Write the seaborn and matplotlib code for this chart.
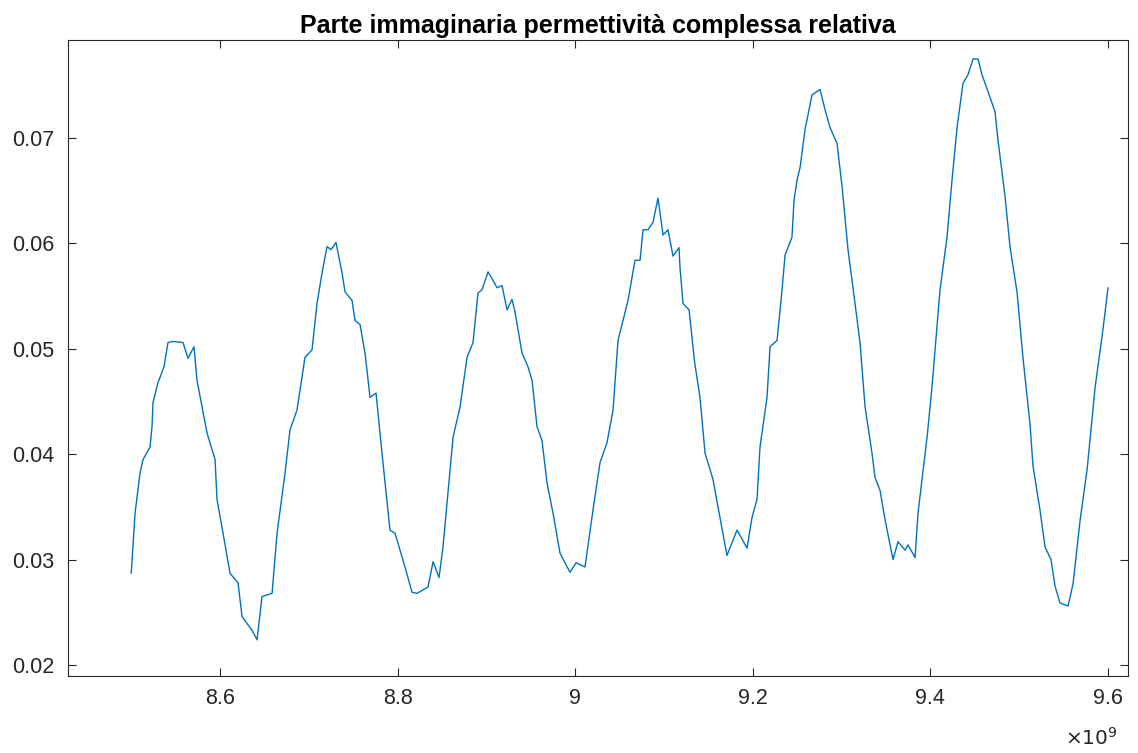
import numpy as np
import pandas as pd
import matplotlib
matplotlib.use("Agg")
import matplotlib.pyplot as plt
import seaborn as sns
from matplotlib.ticker import FuncFormatter, FixedLocator

# Frequency (GHz, plotted in Hz) and imaginary part of relative permittivity
freq_ghz = [
    8.5000, 8.5043, 8.5099, 8.5133, 8.5212, 8.5234, 8.5245, 8.5302, 8.5369, 8.5414,
    8.5471, 8.5583, 8.5640, 8.5707, 8.5741, 8.5797, 8.5854, 8.5944, 8.5966, 8.6034,
    8.6113, 8.6203, 8.6248, 8.6360, 8.6417, 8.6473, 8.6586, 8.6642, 8.6732, 8.6788,
    8.6867, 8.6957, 8.7036, 8.7092, 8.7149, 8.7205, 8.7250, 8.7306, 8.7374, 8.7408,
    8.7486, 8.7520, 8.7577, 8.7633, 8.7689, 8.7757, 8.7824, 8.7914, 8.7971, 8.8083,
    8.8162, 8.8218, 8.8342, 8.8399, 8.8466, 8.8511, 8.8624, 8.8703,
    8.8782, 8.8849, 8.8905, 8.8950, 8.9018, 8.9074, 8.9119, 8.9176, 8.9232, 8.9288,
    8.9322, 8.9401, 8.9468, 8.9514, 8.9570, 8.9626, 8.9682, 8.9750, 8.9829, 8.9941,
    9.0009, 9.0110, 9.0200, 9.0279, 9.0358, 9.0426, 9.0482, 9.0595, 9.0673,
    9.0730, 9.0764, 9.0820, 9.0876, 9.0932, 9.0989, 9.1045, 9.1101, 9.1169, 9.1180,
    9.1214, 9.1282, 9.1315, 9.1345, 9.1405, 9.1462, 9.1552, 9.1608, 9.1709, 9.1822,
    9.1935, 9.1991, 9.2047, 9.2081, 9.2160, 9.2194, 9.2273, 9.2329, 9.2363, 9.2441,
    9.2464, 9.2498,
    9.2532, 9.2588, 9.2667, 9.2757, 9.2813, 9.2869, 9.2948, 9.3005, 9.3072, 9.3151,
    9.3207, 9.3264, 9.3342, 9.3376, 9.3432, 9.3489, 9.3579, 9.3635, 9.3714, 9.3748,
    9.3827, 9.3860, 9.3962, 9.4018, 9.4108, 9.4187, 9.4243, 9.4300, 9.4367, 9.4423,
    9.4480, 9.4536, 9.4581, 9.4649, 9.4727, 9.4761, 9.4840, 9.4896, 9.4975, 9.5043,
    9.5122, 9.5155, 9.5234, 9.5291, 9.5358, 9.5403, 9.5459, 9.5550, 9.5606, 9.5685,
    9.5764, 9.5854, 9.5944, 9.6000,
]

eps_imag = [
    0.0287, 0.0344, 0.0382, 0.0395, 0.0407, 0.0426, 0.0449, 0.0468, 0.0483, 0.0506,
    0.0507, 0.0506, 0.0491, 0.0502, 0.0470, 0.0445, 0.0420, 0.0395, 0.0357, 0.0325,
    0.0287, 0.0278, 0.0246, 0.0233, 0.0224, 0.0265, 0.0268, 0.0325, 0.0382, 0.0423,
    0.0442, 0.0492, 0.0499, 0.0543, 0.0572, 0.0597, 0.0594, 0.0601, 0.0572, 0.0554,
    0.0546, 0.0527, 0.0523, 0.0496, 0.0454, 0.0458, 0.0401, 0.0328, 0.0325, 0.0293,
    0.0269, 0.0268, 0.0274, 0.0298, 0.0283, 0.0312, 0.0416, 0.0445,
    0.0492, 0.0506, 0.0553, 0.0556, 0.0573, 0.0565, 0.0558, 0.0560, 0.0537, 0.0547,
    0.0535, 0.0496, 0.0483, 0.0470, 0.0426, 0.0413, 0.0373, 0.0344, 0.0306, 0.0288,
    0.0297, 0.0293, 0.0347, 0.0392, 0.0411, 0.0442, 0.0508, 0.0546, 0.0584,
    0.0584, 0.0613, 0.0613, 0.0620, 0.0643, 0.0608, 0.0613, 0.0588, 0.0596, 0.0577,
    0.0543, 0.0537, 0.0511, 0.0487, 0.0454, 0.0401, 0.0376, 0.0350, 0.0304, 0.0328,
    0.0311, 0.0340, 0.0357, 0.0407, 0.0454, 0.0502, 0.0508, 0.0556, 0.0589, 0.0606,
    0.0641, 0.0660,
    0.0672, 0.0708, 0.0741, 0.0746, 0.0727, 0.0710, 0.0695, 0.0654, 0.0594, 0.0543,
    0.0506, 0.0445, 0.0401, 0.0378, 0.0366, 0.0338, 0.0300, 0.0317, 0.0309, 0.0314,
    0.0302, 0.0344, 0.0416, 0.0464, 0.0556, 0.0606, 0.0660, 0.0710, 0.0752, 0.0760,
    0.0775, 0.0775, 0.0760, 0.0744, 0.0725, 0.0698, 0.0645, 0.0597, 0.0554, 0.0491,
    0.0428, 0.0389, 0.0347, 0.0312, 0.0300, 0.0275, 0.0259, 0.0256, 0.0277, 0.0337,
    0.0385, 0.0463, 0.0519, 0.0558,
]

title_text = "Parte immaginaria permettività complessa relativa"
x_ticks_ghz = [8.6, 8.8, 9.0, 9.2, 9.4, 9.6]
y_ticks = [0.02, 0.03, 0.04, 0.05, 0.06, 0.07]

df = pd.DataFrame({"freq": np.array(freq_ghz) * 1e9, "eps": eps_imag})

sns.set_theme(style="white")
plt.rcParams["font.family"] = ["Liberation Sans", "DejaVu Sans"]

TXT = "#262626"
fig = plt.figure(figsize=(11.38, 7.53), dpi=100)
ax = fig.add_axes([68 / 1138, 1 - 676 / 753, 1060 / 1138, 636 / 753])

sns.lineplot(data=df, x="freq", y="eps", ax=ax, color="#0072BD",
             linewidth=1.0, sort=False, estimator=None)

ax.set_xlim(8.4288e9, 9.6225e9)
ax.set_ylim(0.01896, 0.0793)
ax.xaxis.set_major_locator(FixedLocator([v * 1e9 for v in x_ticks_ghz]))
ax.xaxis.set_major_formatter(FuncFormatter(lambda v, _: f"{v / 1e9:g}"))
ax.yaxis.set_major_locator(FixedLocator(y_ticks))
ax.yaxis.set_major_formatter(FuncFormatter(lambda v, _: f"{v:g}"))

ax.set_xlabel("")
ax.set_ylabel("")
for s in ax.spines.values():
    s.set_visible(True)
    s.set_color(TXT)
    s.set_linewidth(0.8)
ax.tick_params(axis="both", which="major", direction="in", length=6, width=0.8,
               color=TXT, labelcolor=TXT, labelsize=15.5,
               top=True, right=True, bottom=True, left=True)
ax.tick_params(axis="x", pad=9)
ax.tick_params(axis="y", pad=10)
ax.grid(False)

ax.set_title(title_text, fontsize=18, fontweight="bold", color="black", pad=5)

fig.text(1118 / 1138, 1 - 738 / 753, r"$\times10^{9}$", ha="right", va="center",
         fontsize=14.5, color=TXT)

fig.savefig("out.png", dpi=100, facecolor="white")
